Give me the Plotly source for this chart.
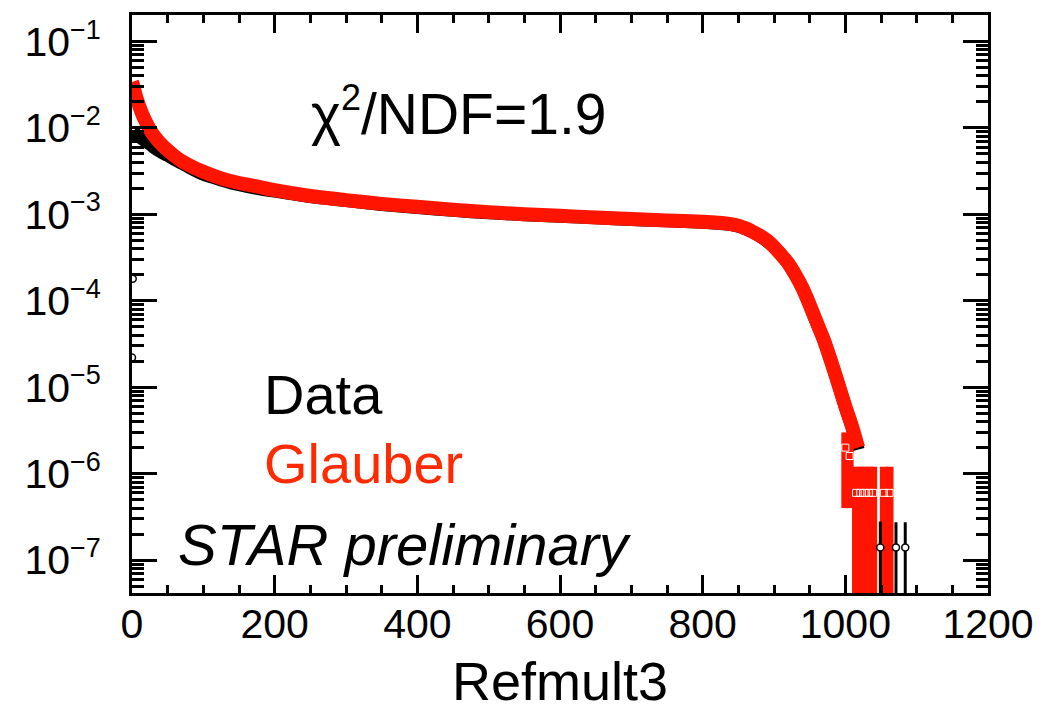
import plotly.graph_objects as go

# Glauber model (red) — main curve
glauber_x = [0, 2, 5, 10, 15, 20, 25, 30, 40, 50, 60, 70, 80, 100, 125, 150, 175, 200,
             250, 300, 350, 400, 450, 500, 550, 600, 650, 700, 750, 800, 820, 830, 840,
             850, 860, 870, 880, 890, 900, 910, 920, 930, 940, 950, 960, 970, 980, 990,
             1000, 1010, 1018]
glauber_y = [0.034, 0.030, 0.024, 0.018, 0.014, 0.0115, 0.0096, 0.0083, 0.0066, 0.0055,
             0.0047, 0.0041, 0.0037, 0.0031, 0.0026, 0.0023, 0.0021, 0.0019,
             0.00163, 0.00146, 0.00132, 0.00122, 0.00113, 0.00106, 0.00100, 0.00096,
             0.00092, 0.00088, 0.00085, 0.00082, 0.00080, 0.00079, 0.00077,
             0.00074, 0.00069, 0.00063, 0.00057, 0.00050, 0.00042, 0.00034, 0.00027,
             0.00020, 0.00014, 9.0e-5, 5.6e-5, 3.5e-5, 2.0e-5, 1.1e-5,
             6.0e-6, 3.4e-6, 2.0e-6]

# Glauber tail bins with large statistical errors
gtail_x = [1000, 1006, 1015, 1021, 1027, 1033, 1039, 1054, 1062]
gtail_y = [2.0e-6, 1.6e-6, 6.0e-7, 6.0e-7, 6.0e-7, 6.0e-7, 6.0e-7, 6.0e-7, 6.0e-7]
gtail_up = [1.0e-6, 1.0e-6, 6.0e-7, 6.0e-7, 6.0e-7, 6.0e-7, 6.0e-7, 6.0e-7, 6.0e-7]
gtail_dn = [1.6e-6, 1.2e-6, 5.99e-7, 5.99e-7, 5.99e-7, 5.99e-7, 5.99e-7, 5.99e-7, 5.99e-7]

# Measured data (black)
data_x = [1, 3, 6, 10, 15, 20, 25, 30, 40, 50, 60, 70, 80, 100, 125, 150, 175, 200,
          250, 300, 350, 400, 450, 500, 550, 600, 650, 700, 750, 800, 820, 840, 860,
          880, 900, 920, 940, 950, 960, 970, 980, 990, 1000, 1010, 1018]
data_y = [0.0090, 0.0087, 0.0083, 0.0079, 0.0074, 0.0069, 0.0065, 0.0060, 0.0053, 0.0048,
          0.0043, 0.0039, 0.0035, 0.0029, 0.0025, 0.0022, 0.0020, 0.00185,
          0.00160, 0.00144, 0.00130, 0.00120, 0.00111, 0.00104, 0.00099, 0.00095,
          0.00091, 0.00087, 0.00084, 0.00081, 0.00079, 0.00076, 0.00068,
          0.00056, 0.00042, 0.00027, 0.00014, 8.9e-5, 5.5e-5, 3.5e-5, 2.0e-5,
          1.1e-5, 5.9e-6, 3.3e-6, 1.9e-6]

# Isolated data bins (single counts)
dtail_x = [0, 1, 1049, 1071, 1084]
dtail_y = [2.2e-5, 1.8e-4, 1.4e-7, 1.4e-7, 1.4e-7]
dtail_up = [0, 0, 1.4e-7, 1.35e-7, 1.35e-7]
dtail_dn = [0, 0, 1.399e-7, 1.399e-7, 1.399e-7]

# y-axis decades and their labels
y_tickvals = [1e-1, 1e-2, 1e-3, 1e-4, 1e-5, 1e-6, 1e-7]
y_ticktext = ["10<sup><span style='font-size:27px'>−%d</span></sup>" % k for k in range(1, 8)]
x_tickvals = [0, 200, 400, 600, 800, 1000, 1200]

RED = "#ff1400"
FONT = "Liberation Sans, Arial, Helvetica, sans-serif"

fig = go.Figure()

fig.add_trace(go.Scatter(x=data_x, y=data_y, mode="lines",
                         line=dict(color="black", width=13, shape="spline", smoothing=0.6),
                         showlegend=False))
fig.add_trace(go.Scatter(x=glauber_x, y=glauber_y, mode="lines",
                         line=dict(color=RED, width=14, shape="spline", smoothing=0.6),
                         showlegend=False))
fig.add_trace(go.Scatter(
    x=gtail_x, y=gtail_y, mode="markers",
    marker=dict(symbol="square-open", size=7, color="white", line=dict(color="white", width=1)),
    error_y=dict(type="data", symmetric=False, array=gtail_up, arrayminus=gtail_dn,
                 color=RED, thickness=8, width=0),
    showlegend=False))
fig.add_trace(go.Scatter(
    x=dtail_x, y=dtail_y, mode="markers",
    marker=dict(symbol="circle", size=7, color="white", line=dict(color="black", width=1.5)),
    error_y=dict(type="data", symmetric=False, array=dtail_up, arrayminus=dtail_dn,
                 color="black", thickness=3, width=0),
    showlegend=False))

axis_common = dict(
    showline=True, linecolor="black", linewidth=3, mirror="ticks",
    ticks="inside", tickcolor="black", tickwidth=3,
    showgrid=False, zeroline=False,
    tickfont=dict(family=FONT, size=41, color="black"),
)

fig.update_xaxes(range=[0, 1200], tickvals=x_tickvals,
                 ticklen=18, ticklabelstandoff=-7,
                 minor=dict(dtick=50, ticks="inside", ticklen=8, tickwidth=2.5,
                            tickcolor="black", showgrid=False),
                 **axis_common)
fig.update_yaxes(type="log", range=[-7.38, -0.695],
                 tickvals=y_tickvals, ticktext=y_ticktext,
                 ticklen=25, ticklabelstandoff=20,
                 minor=dict(dtick="D1", ticks="inside", ticklen=12, tickwidth=2.5,
                            tickcolor="black", showgrid=False),
                 **axis_common)

def px_x(p):
    return (p - 132) / 856.0

def px_y(p):
    return (593 - p) / 580.0

fig.add_annotation(x=px_x(309), y=px_y(110), xref="paper", yref="paper",
                   xanchor="left", yanchor="middle", showarrow=False,
                   text="χ<sup><span style='font-size:36px'>2</span></sup>/NDF=1.9",
                   font=dict(family=FONT, size=57, color="black"))
fig.add_annotation(x=px_x(262), y=px_y(394), xref="paper", yref="paper",
                   xanchor="left", yanchor="middle", showarrow=False,
                   text="Data", font=dict(family=FONT, size=56, color="black"))
fig.add_annotation(x=px_x(262), y=px_y(463), xref="paper", yref="paper",
                   xanchor="left", yanchor="middle", showarrow=False,
                   text="Glauber", font=dict(family=FONT, size=56, color="#ff2a00"))
fig.add_annotation(x=px_x(176), y=px_y(544), xref="paper", yref="paper",
                   xanchor="left", yanchor="middle", showarrow=False,
                   text="<i>STAR preliminary</i>",
                   font=dict(family=FONT, size=58, color="black"))
fig.add_annotation(x=px_x(560), y=px_y(681), xref="paper", yref="paper",
                   xanchor="center", yanchor="middle", showarrow=False,
                   text="Refmult3", font=dict(family=FONT, size=54, color="black"))

fig.update_layout(
    width=1056, height=716,
    margin=dict(l=132, r=68, t=13, b=123),
    paper_bgcolor="white", plot_bgcolor="white",
    font=dict(family=FONT, color="black"),
)

fig.write_html("out.html")
